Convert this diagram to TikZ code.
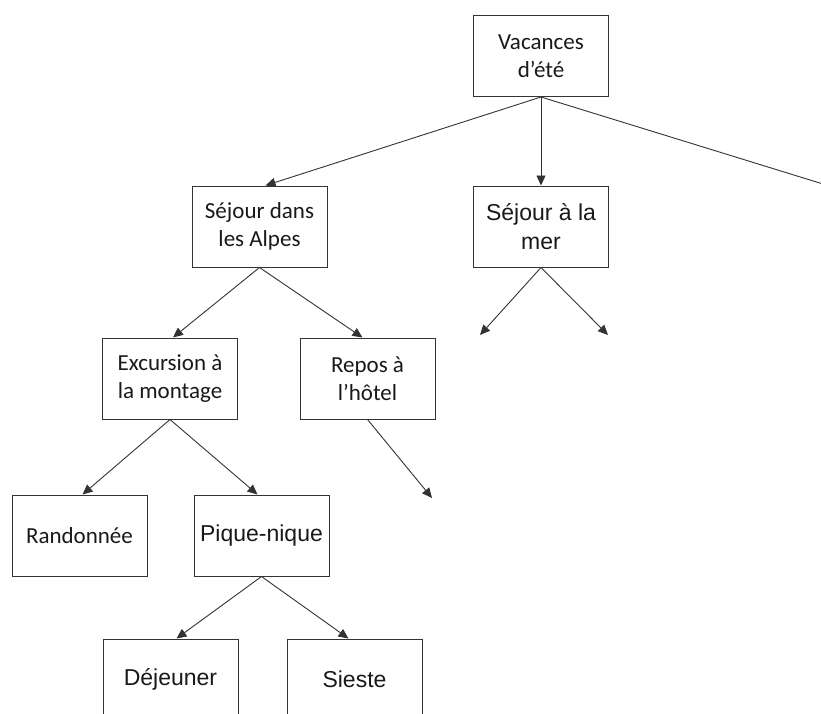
\documentclass[tikz,border=0pt]{standalone}
\usepackage{fontspec}
\setmainfont{Carlito}
\newfontfamily\arialfont{Liberation Sans}
\newcommand\calibrisize{\fontsize{23pt}{28.5pt}\selectfont}
\newcommand\arialsize{\arialfont\fontsize{23pt}{28.5pt}\selectfont}
\usetikzlibrary{arrows.meta}
\begin{document}
\begin{tikzpicture}[x=1pt,y=-1pt,
  box/.style={draw=black!80, line width=1pt, minimum width=135pt, minimum height=81pt,
    inner sep=0pt, align=center, text=black!90, font=\calibrisize},
  boxa/.style={box, font=\arialsize},
  arr/.style={draw=black!80, line width=0.9pt, -{Triangle[length=10pt,width=9pt]}}]
\useasboundingbox (0,0) rectangle (821,713);
\clip (0,0) rectangle (821,713);
% nodes of the tree
\node[box]  (top)   at (541,56)      {Vacances\\d’été};
\node[box]  (alpes) at (259.5,226.5) {Séjour dans\\les Alpes};
\node[boxa] (mer)   at (541,226.5)   {Séjour à la\\mer};
\node[box]  (exc)   at (170,378.5)   {Excursion à\\la montage};
\node[box]  (repos) at (367.5,378.5) {Repos à\\l’hôtel};
\node[box]  (rando) at (79.5,535.5)  {Randonnée};
\node[boxa] (pique) at (261.5,535.5) {Pique-nique};
\node[boxa] (dej)   at (170.5,679.5) {Déjeuner};
\node[boxa] (sieste) at (354.5,679.5) {Sieste};
% open branch ends
\coordinate (far)   at (836,188);
\coordinate (merL)  at (480,335);
\coordinate (merR)  at (608,335);
\coordinate (repE)  at (432,498);
% connectors
\draw[arr] (top.south) -- ([xshift=6pt]alpes.north);
\draw[arr] (top.south) -- (mer.north);
\draw[arr] (top.south) -- (far);
\draw[arr] (mer.south) -- (merL);
\draw[arr] (mer.south) -- (merR);
\draw[arr] (alpes.south) -- ([xshift=3pt]exc.north);
\draw[arr] (alpes.south) -- ([xshift=-5pt]repos.north);
\draw[arr] (repos.south) -- (repE);
\draw[arr] (exc.south) -- ([xshift=3pt]rando.north);
\draw[arr] (exc.south) -- ([xshift=-4pt]pique.north);
\draw[arr] (pique.south) -- ([xshift=6pt]dej.north);
\draw[arr] (pique.south) -- ([xshift=-6pt]sieste.north);
\end{tikzpicture}
\end{document}
